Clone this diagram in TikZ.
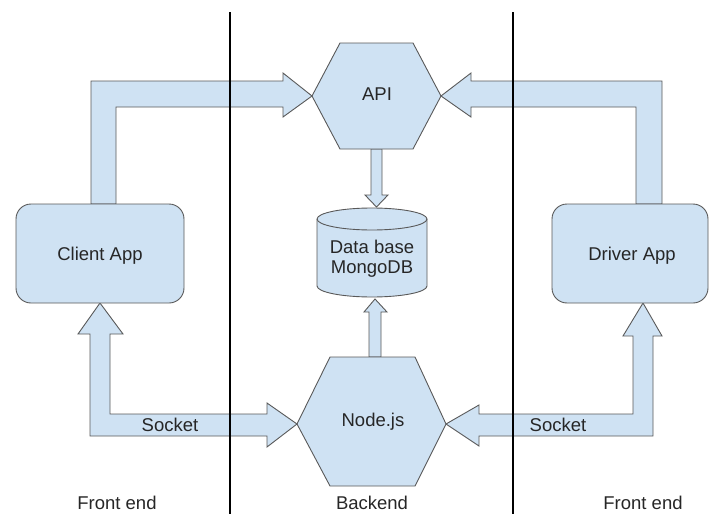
\documentclass[tikz,border=0pt]{standalone}
\usepackage{fontspec}
\setmainfont{Liberation Sans}
\definecolor{boxfill}{HTML}{CFE2F3}
\definecolor{boxline}{HTML}{595959}
\begin{document}
\begin{tikzpicture}[x=1pt,y=-1pt,
  shp/.style={fill=boxfill,draw=boxline,line width=0.9pt,line join=miter},
  blk/.style={fill=boxfill,draw=boxline,line width=0.9pt,line join=miter},
  lbl/.style={font=\fontsize{18.5}{21}\selectfont,text=black!85,inner sep=0pt},
  divider/.style={draw=black,line width=1.6pt}]
\useasboundingbox (0,0) rectangle (710,514);

% Client -> API
\path[blk] (91,204) -- (91,81) -- (283,81) -- (283,73) -- (312,96) -- (283,117) -- (283,107) -- (116,107) -- (116,204) -- cycle;
% Driver -> API
\path[blk] (662,204) -- (662,81) -- (471,81) -- (471,73) -- (441,96) -- (471,117) -- (471,107) -- (636,107) -- (636,204) -- cycle;
% API -> DB
\path[blk] (371,149) -- (371,195) -- (365,195) -- (376.5,207) -- (388,195) -- (382,195) -- (382,149) -- cycle;
% Node -> DB
\path[blk] (369,357) -- (369,312) -- (364,312) -- (375,299) -- (387,312) -- (381,312) -- (381,357) -- cycle;
% Client <-> Node (socket)
\path[blk] (100,303) -- (78,334) -- (90,334) -- (90,436) -- (267,436) -- (267,447) -- (297,424) -- (267,403) -- (267,414) -- (110,414) -- (110,334) -- (123,334) -- cycle;
% Driver <-> Node (socket)
\path[blk] (643,303) -- (662,336) -- (653,336) -- (653,436) -- (479,436) -- (479,446) -- (446,424) -- (479,405) -- (479,414) -- (633,414) -- (633,336) -- (623,336) -- cycle;

% Client App
\path[shp,rounded corners=15pt] (16,204) rectangle (184,303);
\node[lbl] (client) at (100,256) {Client App};
% Driver App
\path[shp,rounded corners=15pt] (552,204) rectangle (708,303);
\node[lbl] (driver) at (632,256) {Driver App};

% API hexagon
\path[shp] (312,96) -- (340,43) -- (413,43) -- (441,96) -- (413,149) -- (340,149) -- cycle;
\node[lbl] (api) at (377,94) {API};

% Node.js hexagon
\path[shp] (297,424) -- (330,357) -- (415,357) -- (446,424) -- (415,486) -- (330,486) -- cycle;
\node[lbl] (node) at (373,422) {Node.js};

% Database cylinder
\path[shp] (317,219) -- (317,286) arc[start angle=180,end angle=360,x radius=55pt,y radius=11pt] -- (427,219) arc[start angle=0,end angle=180,x radius=55pt,y radius=11pt] -- cycle;
\draw[boxline,line width=0.9pt] (317,219) arc[start angle=180,end angle=360,x radius=55pt,y radius=11pt];
\node[lbl,align=center] (db) at (372,259) {Data base\\[-1pt]MongoDB};

% Socket labels
\node[lbl] (sockl) at (170,425) {Socket};
\node[lbl] (sockr) at (558,425) {Socket};

% Dividers
\coordinate (d1t) at (230,12);
\coordinate (d1b) at (230,514);
\coordinate (d2t) at (513,12);
\coordinate (d2b) at (513,514);
\draw[divider] (d1t) -- (d1b);
\draw[divider] (d2t) -- (d2b);

% Bottom labels
\node[lbl] (fe1) at (117,503) {Front end};
\node[lbl] (be) at (372,503) {Backend};
\node[lbl] (fe2) at (643,503) {Front end};
\end{tikzpicture}
\end{document}
